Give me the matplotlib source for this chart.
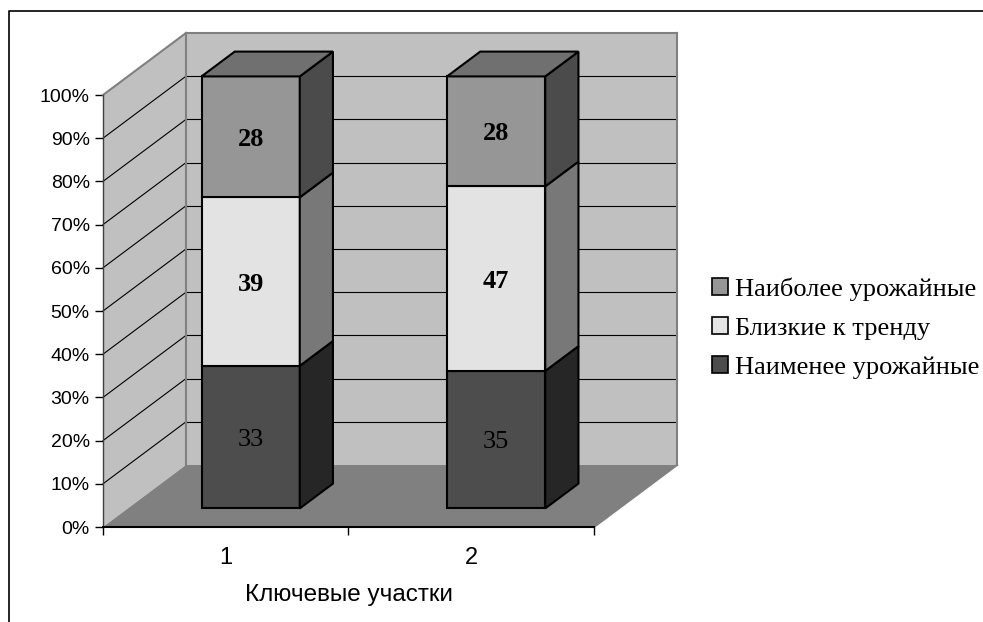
import matplotlib
matplotlib.use("Agg")
import matplotlib.pyplot as plt
from matplotlib.patches import Polygon, Patch
from matplotlib.lines import Line2D

# доли урожайности по ключевым участкам
sites = ["1", "2"]
series_names = ["Наименее урожайные", "Близкие к тренду", "Наиболее урожайные"]
least = [33, 35]
near_trend = [39, 47]
most = [28, 28]
series_values = [least, near_trend, most]

front_colors = ["#4d4d4d", "#e3e3e3", "#969696"]
side_colors = ["#262626", "#787878", "#4b4b4b"]
top_color = "#707070"
label_weights = ["normal", "bold", "bold"]

W, H = 983, 622
fig = plt.figure(figsize=(W / 100, H / 100), dpi=100)
ax = fig.add_axes([103 / W, 95 / H, 491 / W, 432 / H])
ax.set_xlim(0, len(sites))
ax.set_ylim(0, 100)
ax.patch.set_visible(False)

# глубина 3D-коробки в единицах данных
DX = 83 / 491 * len(sites)
DY = 62 / 432 * 100


def pt(x, y, d):
    return (x + d * DX, y + d * DY)


def poly(points, fc, ec="none", lw=0.0, z=1):
    ax.add_patch(Polygon(points, closed=True, facecolor=fc, edgecolor=ec,
                         linewidth=lw, zorder=z, clip_on=False,
                         joinstyle="miter"))


def seg(p0, p1, color, lw, z=2):
    ax.add_line(Line2D([p0[0], p1[0]], [p0[1], p1[1]], color=color,
                       linewidth=lw, zorder=z, clip_on=False))


n = len(sites)
# стенки и пол
poly([pt(0, 0, 1), pt(n, 0, 1), pt(n, 100, 1), pt(0, 100, 1)], "#c0c0c0")
poly([pt(0, 0, 0), pt(0, 0, 1), pt(0, 100, 1), pt(0, 100, 0)], "#c0c0c0")
poly([pt(0, 0, 0), pt(n, 0, 0), pt(n, 0, 1), pt(0, 0, 1)], "#808080")

for p in range(10, 100, 10):
    seg(pt(0, p, 1), pt(n, p, 1), "black", 0.8)
    seg(pt(0, p, 0), pt(0, p, 1), "black", 0.8)

wall_edge = "#808080"
seg(pt(0, 100, 0), pt(0, 100, 1), wall_edge, 1.5)
seg(pt(0, 100, 1), pt(n, 100, 1), wall_edge, 1.5)
seg(pt(n, 100, 1), pt(n, 0, 1), wall_edge, 1.5)
seg(pt(0, 0, 1), pt(0, 100, 1), wall_edge, 1.5)
seg(pt(n, 0, 0), pt(n, 0, 1), wall_edge, 1.5)

# столбики (100% с накоплением)
half = 0.2
d0, d1 = 0.3, 0.7
for i in range(n):
    c = i + 0.5
    total = sum(s[i] for s in series_values)
    base = 0.0
    for k, s in enumerate(series_values):
        h = s[i] / total * 100
        y0, y1 = base, base + h
        poly([pt(c - half, y0, d0), pt(c + half, y0, d0),
              pt(c + half, y1, d0), pt(c - half, y1, d0)],
             front_colors[k], "black", 1.5, 5)
        poly([pt(c + half, y0, d0), pt(c + half, y0, d1),
              pt(c + half, y1, d1), pt(c + half, y1, d0)],
             side_colors[k], "black", 1.5, 5)
        lx, ly = pt(c, (y0 + y1) / 2, d0)
        ax.text(lx, ly, str(s[i]), ha="center", va="center_baseline",
                fontsize=19, family="Liberation Serif",
                weight=label_weights[k], zorder=7)
        base = y1
    poly([pt(c - half, 100, d0), pt(c + half, 100, d0),
          pt(c + half, 100, d1), pt(c - half, 100, d1)],
         top_color, "black", 1.5, 5)

# оси
for side in ["top", "right"]:
    ax.spines[side].set_visible(False)
ax.spines["left"].set_linewidth(1.0)
ax.spines["left"].set_color("#404040")
ax.spines["bottom"].set_linewidth(1.5)
ax.spines["left"].set_zorder(3)
ax.spines["bottom"].set_zorder(3)

ax.set_yticks(range(0, 101, 10))
ax.set_yticklabels([f"{v}%" for v in range(0, 101, 10)],
                   family="Liberation Sans", fontsize=14)
ax.tick_params(axis="y", length=6, width=1, pad=3.5)

ax.set_xticks([i + 0.5 for i in range(n)])
ax.set_xticklabels(sites, family="Liberation Sans", fontsize=17)
ax.set_xticks(range(n + 1), minor=True)
ax.tick_params(axis="x", which="major", length=0, pad=14.5)
ax.tick_params(axis="x", which="minor", length=6, width=1)
ax.set_xlabel("Ключевые участки", family="Liberation Sans", fontsize=17.5,
              labelpad=11)

handles = [Patch(facecolor=front_colors[k], edgecolor="black", linewidth=1.2)
           for k in reversed(range(len(series_names)))]
fig.legend(handles, list(reversed(series_names)), loc="center left",
           bbox_to_anchor=(712 / W, 1 - 328 / H), frameon=False,
           prop={"family": "Liberation Serif", "size": 19},
           handlelength=0.62, handleheight=0.6, handletextpad=0.25,
           labelspacing=0.62, borderpad=0, borderaxespad=0)

# рамка области диаграммы
fig.add_artist(Line2D([9 / W, 9 / W, 1.01], [-0.01, 1 - 11 / H, 1 - 11 / H],
                      color="black", linewidth=1.2, transform=fig.transFigure))

fig.savefig("out.png", dpi=100)
